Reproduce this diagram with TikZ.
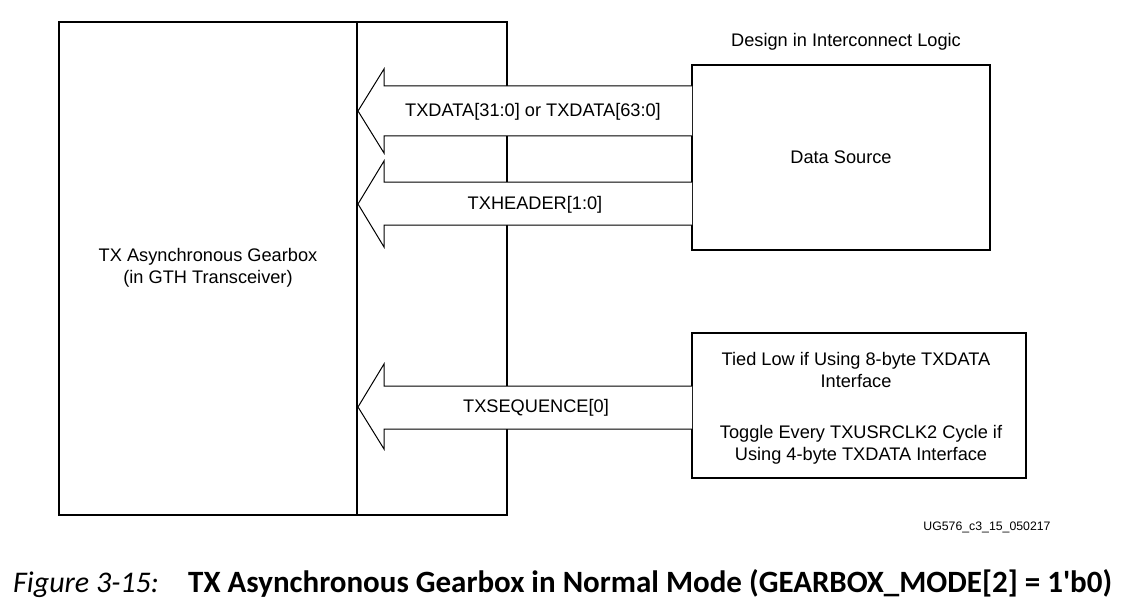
\documentclass[tikz,border=0pt]{standalone}
\usepackage{fontspec}
\setmainfont{Liberation Sans}
\newfontfamily\capfont{Carlito}
\begin{document}
\begin{tikzpicture}[x=1pt,y=-1pt,
  box/.style={draw,line width=2pt},
  lbl/.style={font=\fontsize{18.2}{22}\selectfont,inner sep=0pt,align=center},
  fatarrow/.style={draw,fill=white,line width=1pt,line join=miter}]
\useasboundingbox (0,0) rectangle (1130,607);
% boxes
\draw[box] (59,22) rectangle (507,515);
\draw[box] (357,22) -- (357,515);
\node[lbl] (gb) at (208,268) {TX Asynchronous Gearbox\\(in GTH Transceiver)};
\node[box,minimum width=298pt,minimum height=185pt,inner sep=0pt] (ds) at (841,157.5) {};
\node[lbl] at (ds.center) {Data Source};
\node[lbl] (dil) at (846,42) {Design in Interconnect Logic};
\node[box,minimum width=334pt,minimum height=145pt,inner sep=0pt] (tl) at (859,405.5) {};
\node[lbl] (tl1) at (856,370) {Tied Low if Using 8-byte TXDATA\\Interface};
\node[lbl] (tl2) at (861,445) {Toggle Every TXUSRCLK2 Cycle if\\Using 4-byte TXDATA Interface};
% arrows
\draw[fatarrow] (692,86) -- (384,86) -- (384,69) -- (358,111) -- (384,153) -- (384,136) -- (692,136);
\node[lbl] (a1) at (533,112) {TXDATA[31:0] or TXDATA[63:0]};
\draw[fatarrow] (692,182) -- (384,182) -- (384,161) -- (358,204) -- (384,247) -- (384,225) -- (692,225);
\node[lbl] (a2) at (535,205) {TXHEADER[1:0]};
\draw[fatarrow] (692,386) -- (384,386) -- (384,364) -- (358,407) -- (384,449) -- (384,429) -- (692,429);
\node[lbl] (a3) at (536,408) {TXSEQUENCE[0]};
\node[inner sep=0pt,font=\fontsize{12.3}{14}\selectfont] (id) at (987,527) {UG576\_c3\_15\_050217};
\node[inner sep=0pt,anchor=base west,font=\capfont\fontsize{30}{36}\selectfont] (cap) at (13,592) {\textit{Figure 3-15:}};
\node[inner sep=0pt,anchor=base west,font=\capfont\bfseries\fontsize{31}{36}\selectfont] (capt) at (188,592) {TX Asynchronous Gearbox in Normal Mode (GEARBOX\_MODE[2] = 1'b0)};
\end{tikzpicture}
\end{document}
